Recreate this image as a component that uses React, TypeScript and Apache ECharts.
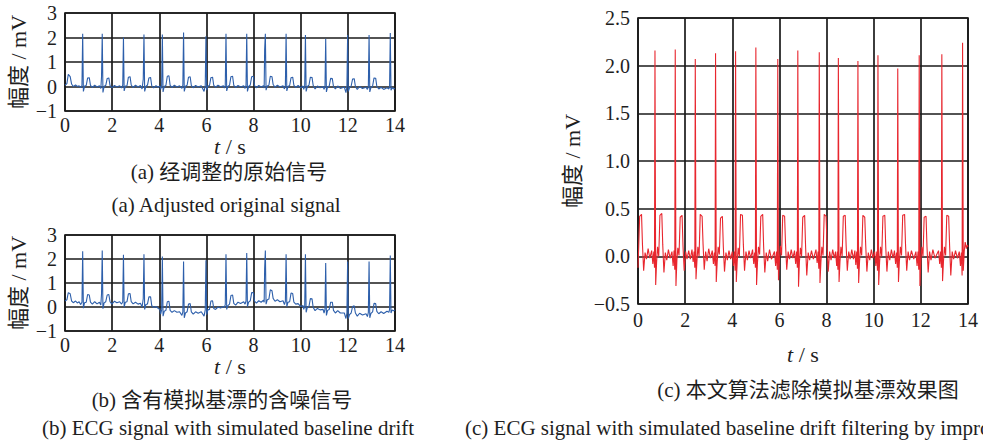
import React, { useEffect, useRef } from "react";
import * as echarts from "echarts";

// (a) adjusted original signal [t (s), amplitude (mV)]
const seriesA: number[][] = [
  [0, 0.05], [0.08, 0.12], [0.14, 0.5], [0.22, 0.4], [0.28, 0.1], [0.35, 0.0], [0.45, 0.06], [0.52, 0.0], [0.6, 0.03],
  [0.66, -0.05], [0.72, 0.04], [0.75, 2.15], [0.78, -0.2], [0.83, 0.02], [0.9, 0.04], [0.96, 0.35], [1.03, 0.36], [1.08, 0.05], [1.16, -0.04], [1.26, 0.05], [1.36, -0.02], [1.46, 0.03],
  [1.52, -0.08], [1.55, 0.4], [1.58, 2.15], [1.61, -0.24], [1.66, 0.0], [1.73, 0.05], [1.79, 0.33], [1.86, 0.35], [1.91, 0.04], [1.99, -0.05], [2.1, 0.04], [2.2, -0.02], [2.32, 0.03],
  [2.4, -0.06], [2.45, 0.05], [2.48, 2.0], [2.51, -0.18], [2.56, 0.02], [2.63, 0.03], [2.69, 0.38], [2.76, 0.4], [2.81, 0.06], [2.89, -0.04], [2.99, 0.05], [3.1, -0.02], [3.2, 0.04],
  [3.27, -0.1], [3.32, 0.3], [3.35, 2.12], [3.38, -0.2], [3.43, 0.0], [3.5, 0.06], [3.56, 0.35], [3.63, 0.37], [3.68, 0.03], [3.76, -0.06], [3.86, 0.03], [3.95, -0.03], [4.03, 0.02],
  [4.06, -0.12], [4.1, 0.05], [4.13, 2.12], [4.16, -0.22], [4.21, 0.0], [4.28, 0.04], [4.34, 0.42], [4.41, 0.44], [4.46, 0.05], [4.54, -0.04], [4.64, 0.05], [4.75, -0.02], [4.86, 0.03],
  [4.96, -0.08], [5.0, 0.06], [5.03, 2.2], [5.06, -0.2], [5.11, 0.01], [5.18, 0.05], [5.24, 0.38], [5.31, 0.4], [5.36, 0.04], [5.44, -0.05], [5.54, 0.04], [5.65, -0.02], [5.78, 0.03],
  [5.9, -0.2], [5.95, 0.05], [5.98, 2.05], [6.01, -0.15], [6.06, 0.02], [6.13, 0.04], [6.19, 0.36], [6.26, 0.38], [6.31, 0.05], [6.39, -0.03], [6.49, 0.05], [6.6, -0.01], [6.72, 0.03],
  [6.76, -0.06], [6.8, 0.04], [6.83, 2.15], [6.86, -0.18], [6.91, 0.0], [6.98, 0.05], [7.04, 0.4], [7.11, 0.42], [7.16, 0.05], [7.24, -0.04], [7.34, 0.04], [7.45, -0.02], [7.58, 0.03],
  [7.64, -0.08], [7.68, 0.05], [7.71, 2.15], [7.74, -0.2], [7.79, 0.0], [7.86, 0.06], [7.92, 0.4], [7.99, 0.42], [8.04, 0.04], [8.12, -0.05], [8.22, 0.04], [8.32, -0.02], [8.42, 0.03],
  [8.45, -0.06], [8.47, 1.5], [8.5, 2.15], [8.53, -0.15], [8.58, 0.02], [8.65, 0.05], [8.71, 0.42], [8.78, 0.4], [8.83, 0.08], [8.91, -0.03], [9.01, 0.05], [9.12, -0.02], [9.25, 0.03],
  [9.31, -0.1], [9.35, 0.05], [9.38, 2.15], [9.41, -0.18], [9.46, 0.0], [9.53, 0.04], [9.59, 0.36], [9.66, 0.38], [9.71, 0.05], [9.79, -0.04], [9.89, 0.04], [10.0, -0.05], [10.1, 0.02],
  [10.13, -0.12], [10.17, 0.05], [10.2, 2.1], [10.23, -0.2], [10.28, 0.0], [10.35, 0.05], [10.41, 0.38], [10.48, 0.37], [10.53, 0.04], [10.61, -0.1], [10.71, 0.02], [10.82, -0.05], [10.95, 0.0],
  [10.99, -0.12], [11.03, 0.0], [11.06, 1.95], [11.09, -0.22], [11.14, -0.02], [11.21, 0.02], [11.27, 0.33], [11.34, 0.32], [11.39, 0.0], [11.47, -0.1], [11.57, 0.02], [11.68, -0.08], [11.85, -0.02],
  [11.92, -0.25], [11.96, 0.0], [11.99, 2.1], [12.02, -0.2], [12.07, -0.05], [12.14, 0.02], [12.2, 0.3], [12.27, 0.32], [12.32, 0.0], [12.4, -0.12], [12.5, 0.0], [12.62, -0.08], [12.77, -0.03],
  [12.83, -0.12], [12.87, 0.0], [12.9, 2.1], [12.93, -0.22], [12.98, -0.05], [13.05, 0.02], [13.11, 0.35], [13.18, 0.34], [13.23, 0.0], [13.31, -0.1], [13.41, -0.03], [13.52, -0.12], [13.66, -0.05],
  [13.74, -0.1], [13.77, 0.0], [13.8, 2.18], [13.83, -0.15], [13.88, -0.05], [13.94, -0.1], [14.0, -0.08],
];

// (b) noisy signal with simulated baseline drift
const seriesB: number[][] = [
  [0, 0.25], [0.08, 0.3], [0.14, 0.6], [0.22, 0.55], [0.28, 0.25], [0.35, 0.18], [0.45, 0.25], [0.52, 0.17], [0.6, 0.22],
  [0.66, 0.1], [0.72, 0.2], [0.75, 2.32], [0.78, -0.05], [0.83, 0.18], [0.9, 0.2], [0.96, 0.52], [1.03, 0.5], [1.08, 0.2], [1.16, 0.12], [1.26, 0.22], [1.36, 0.13], [1.46, 0.2],
  [1.52, 0.08], [1.55, 0.55], [1.58, 2.35], [1.61, -0.07], [1.66, 0.17], [1.73, 0.22], [1.79, 0.5], [1.86, 0.52], [1.91, 0.22], [1.99, 0.12], [2.1, 0.24], [2.2, 0.18], [2.32, 0.22],
  [2.4, 0.12], [2.45, 0.22], [2.48, 2.18], [2.51, 0.0], [2.56, 0.2], [2.63, 0.22], [2.69, 0.55], [2.76, 0.56], [2.81, 0.22], [2.89, 0.13], [2.99, 0.2], [3.1, 0.12], [3.2, 0.16],
  [3.27, 0.0], [3.32, 0.35], [3.35, 2.2], [3.38, -0.1], [3.43, 0.1], [3.5, 0.13], [3.56, 0.42], [3.63, 0.42], [3.68, 0.06], [3.76, -0.02], [3.86, 0.02], [3.95, -0.05], [4.03, -0.12],
  [4.06, -0.3], [4.1, -0.12], [4.13, 2.1], [4.16, -0.38], [4.21, -0.18], [4.28, -0.14], [4.34, 0.22], [4.41, 0.24], [4.46, -0.14], [4.54, -0.22], [4.64, -0.15], [4.75, -0.22], [4.86, -0.2],
  [4.96, -0.35], [5.0, -0.2], [5.03, 1.9], [5.06, -0.45], [5.11, -0.25], [5.18, -0.2], [5.24, 0.12], [5.31, 0.14], [5.36, -0.2], [5.44, -0.3], [5.54, -0.2], [5.65, -0.26], [5.78, -0.2],
  [5.9, -0.38], [5.95, -0.12], [5.98, 1.95], [6.01, -0.32], [6.06, -0.12], [6.13, -0.1], [6.19, 0.25], [6.26, 0.26], [6.31, -0.06], [6.39, -0.1], [6.49, 0.0], [6.6, -0.04], [6.72, 0.02],
  [6.76, -0.02], [6.8, 0.1], [6.83, 2.2], [6.86, -0.1], [6.91, 0.06], [6.98, 0.12], [7.04, 0.48], [7.11, 0.5], [7.16, 0.15], [7.24, 0.08], [7.34, 0.2], [7.45, 0.15], [7.58, 0.22],
  [7.64, 0.12], [7.68, 0.25], [7.71, 2.25], [7.74, 0.02], [7.79, 0.2], [7.86, 0.26], [7.92, 0.6], [7.99, 0.6], [8.04, 0.25], [8.12, 0.16], [8.22, 0.26], [8.32, 0.2], [8.42, 0.28],
  [8.45, 0.2], [8.47, 1.6], [8.5, 2.35], [8.53, 0.12], [8.58, 0.3], [8.65, 0.33], [8.71, 0.72], [8.78, 0.68], [8.83, 0.36], [8.91, 0.24], [9.01, 0.3], [9.12, 0.22], [9.25, 0.26],
  [9.31, 0.1], [9.35, 0.24], [9.38, 2.2], [9.41, 0.02], [9.46, 0.2], [9.53, 0.22], [9.59, 0.58], [9.66, 0.56], [9.71, 0.2], [9.79, 0.12], [9.89, 0.14], [10.0, 0.02], [10.1, 0.06],
  [10.13, -0.1], [10.17, 0.05], [10.2, 2.2], [10.23, -0.22], [10.28, -0.02], [10.35, 0.02], [10.41, 0.35], [10.48, 0.34], [10.53, -0.02], [10.61, -0.15], [10.71, -0.06], [10.82, -0.12], [10.95, -0.1],
  [10.99, -0.25], [11.03, -0.1], [11.06, 1.83], [11.09, -0.35], [11.14, -0.14], [11.21, -0.1], [11.27, 0.2], [11.34, 0.2], [11.39, -0.14], [11.47, -0.25], [11.57, -0.15], [11.68, -0.25], [11.85, -0.25],
  [11.92, -0.48], [11.96, -0.25], [11.99, 1.9], [12.02, -0.48], [12.07, -0.32], [12.14, -0.25], [12.2, 0.02], [12.27, 0.05], [12.32, -0.25], [12.4, -0.38], [12.5, -0.26], [12.62, -0.33], [12.77, -0.28],
  [12.83, -0.4], [12.87, -0.22], [12.9, 1.9], [12.93, -0.45], [12.98, -0.27], [13.05, -0.2], [13.11, 0.15], [13.18, 0.14], [13.23, -0.18], [13.31, -0.28], [13.41, -0.2], [13.52, -0.27], [13.66, -0.18],
  [13.74, -0.22], [13.77, -0.1], [13.8, 2.15], [13.83, -0.25], [13.88, -0.12], [13.94, -0.16], [14.0, -0.12],
];

// (c) result after removing the simulated baseline drift
const seriesC: number[][] = [
  [0, -0.12], [0.03, 0.1], [0.07, 0.42], [0.15, 0.44], [0.19, 0.12], [0.24, -0.15], [0.3, 0.04], [0.36, -0.03], [0.43, 0.08], [0.5, -0.02],
  [0.58, 0.06], [0.63, -0.08], [0.67, 0.05], [0.7, -0.12], [0.72, 2.16], [0.75, -0.3], [0.79, -0.06], [0.83, 0.1], [0.88, 0.0], [0.93, 0.43], [1.01, 0.45], [1.05, 0.12], [1.1, -0.17], [1.16, 0.04], [1.22, -0.04], [1.29, 0.07], [1.36, -0.02],
  [1.44, 0.05], [1.49, -0.1], [1.53, 0.06], [1.56, -0.14], [1.58, 2.17], [1.61, -0.31], [1.65, -0.04], [1.69, 0.09], [1.74, 0.01], [1.79, 0.41], [1.87, 0.43], [1.91, 0.1], [1.96, -0.15], [2.02, 0.05], [2.08, -0.03], [2.15, 0.06], [2.22, -0.03],
  [2.29, 0.07], [2.34, -0.06], [2.38, 0.05], [2.41, -0.12], [2.43, 2.07], [2.46, -0.24], [2.5, -0.05], [2.54, 0.1], [2.59, 0.0], [2.64, 0.44], [2.72, 0.42], [2.76, 0.13], [2.81, -0.14], [2.87, 0.05], [2.93, -0.05], [3.0, 0.08], [3.07, -0.02],
  [3.15, 0.06], [3.2, -0.08], [3.24, 0.04], [3.27, -0.1], [3.29, 2.13], [3.32, -0.27], [3.36, -0.06], [3.4, 0.1], [3.45, 0.02], [3.5, 0.4], [3.58, 0.42], [3.62, 0.1], [3.67, -0.16], [3.73, 0.04], [3.79, -0.04], [3.86, 0.06], [3.93, -0.03],
  [4.0, 0.05], [4.05, -0.1], [4.09, 0.05], [4.12, -0.15], [4.14, 2.15], [4.17, -0.27], [4.21, -0.05], [4.25, 0.09], [4.3, 0.0], [4.35, 0.44], [4.43, 0.43], [4.47, 0.12], [4.52, -0.15], [4.58, 0.05], [4.64, -0.04], [4.71, 0.06], [4.78, -0.02],
  [4.86, 0.07], [4.91, -0.08], [4.95, 0.04], [4.98, -0.12], [5.0, 2.19], [5.03, -0.3], [5.07, -0.06], [5.11, 0.1], [5.16, 0.02], [5.21, 0.42], [5.29, 0.44], [5.33, 0.1], [5.38, -0.17], [5.44, 0.04], [5.5, -0.05], [5.58, 0.07], [5.66, -0.03],
  [5.79, 0.05], [5.84, -0.1], [5.88, 0.05], [5.91, -0.14], [5.93, 2.07], [5.96, -0.25], [6.0, -0.04], [6.04, 0.11], [6.09, 0.01], [6.14, 0.43], [6.22, 0.42], [6.26, 0.12], [6.31, -0.14], [6.37, 0.05], [6.43, -0.03], [6.5, 0.07], [6.57, -0.02],
  [6.64, 0.06], [6.69, -0.08], [6.73, 0.05], [6.76, -0.12], [6.78, 2.16], [6.81, -0.32], [6.85, -0.05], [6.89, 0.09], [6.94, 0.0], [6.99, 0.41], [7.07, 0.43], [7.11, 0.1], [7.16, -0.2], [7.22, 0.04], [7.28, -0.04], [7.36, 0.06], [7.44, -0.03],
  [7.55, 0.07], [7.6, -0.07], [7.64, 0.05], [7.67, -0.13], [7.69, 2.14], [7.72, -0.28], [7.76, -0.06], [7.8, 0.1], [7.85, 0.01], [7.9, 0.44], [7.98, 0.42], [8.02, 0.12], [8.07, -0.16], [8.13, 0.05], [8.19, -0.04], [8.26, 0.07], [8.33, -0.02],
  [8.38, 0.05], [8.43, -0.1], [8.46, 0.05], [8.48, -0.14], [8.5, 2.08], [8.53, -0.27], [8.57, -0.05], [8.61, 0.1], [8.66, 0.0], [8.71, 0.42], [8.79, 0.43], [8.83, 0.11], [8.88, -0.15], [8.94, 0.05], [9.0, -0.03], [9.07, 0.07], [9.14, -0.03],
  [9.2, 0.06], [9.24, -0.09], [9.28, 0.05], [9.31, -0.13], [9.33, 2.05], [9.36, -0.28], [9.4, -0.05], [9.44, 0.1], [9.49, 0.01], [9.54, 0.43], [9.62, 0.41], [9.66, 0.12], [9.71, -0.16], [9.77, 0.04], [9.83, -0.04], [9.9, 0.07], [9.97, -0.02],
  [10.04, 0.05], [10.09, -0.1], [10.13, 0.05], [10.16, -0.15], [10.18, 2.11], [10.21, -0.3], [10.25, -0.06], [10.29, 0.1], [10.34, 0.0], [10.39, 0.42], [10.47, 0.43], [10.51, 0.1], [10.56, -0.16], [10.62, 0.05], [10.68, -0.04], [10.75, 0.07], [10.82, -0.02],
  [10.88, 0.06], [10.93, -0.08], [10.97, 0.04], [11.0, -0.12], [11.02, 1.97], [11.05, -0.27], [11.09, -0.05], [11.13, 0.1], [11.18, 0.01], [11.23, 0.43], [11.31, 0.44], [11.35, 0.12], [11.4, -0.15], [11.46, 0.05], [11.52, -0.04], [11.6, 0.06], [11.7, -0.03],
  [11.79, 0.05], [11.84, -0.1], [11.88, 0.05], [11.91, -0.14], [11.93, 2.11], [11.96, -0.31], [12.0, -0.05], [12.04, 0.1], [12.09, 0.0], [12.14, 0.41], [12.22, 0.42], [12.26, 0.1], [12.31, -0.17], [12.37, 0.05], [12.43, -0.04], [12.51, 0.07], [12.6, -0.02],
  [12.75, 0.06], [12.8, -0.08], [12.84, 0.05], [12.87, -0.12], [12.89, 2.12], [12.92, -0.26], [12.96, -0.05], [13.0, 0.1], [13.05, 0.01], [13.1, 0.43], [13.18, 0.42], [13.22, 0.11], [13.27, -0.2], [13.33, 0.05], [13.39, -0.03], [13.47, 0.06], [13.55, -0.02],
  [13.63, 0.05], [13.68, -0.1], [13.72, 0.04], [13.75, -0.2], [13.77, 2.24], [13.8, -0.15], [13.84, 0.05], [13.88, 0.15], [13.93, 0.08], [13.97, 0.12], [14.0, 0.1],
];

const yNameText = "幅度 / mV";
const xNameText = "{i|t} / s";
const captionA = ["(a) 经调整的原始信号", "(a) Adjusted original signal"];
const captionB = ["(b) 含有模拟基漂的含噪信号", "(b) ECG signal with simulated baseline drift"];
const captionC = ["(c) 本文算法滤除模拟基漂效果图", "(c) ECG signal with simulated baseline drift filtering by improved algorithm"];

export default function App() {
  const ref = useRef<HTMLDivElement>(null);
  useEffect(() => {
    document.body.style.margin = "0";
    const chart = echarts.init(ref.current!, null, { renderer: "svg" });
    const serif = "'Liberation Serif', 'Times New Roman', serif";
    const cjk = "'Liberation Serif', 'Noto Sans CJK SC', serif";
    const ink = "#1e1e1e";
    const fmt = (d: number) => (v: number) => (v < 0 ? "\u2212" : "") + Math.abs(v).toFixed(d);
    const gridLine = { show: true, lineStyle: { color: "#1a1a1a", width: 1.7 } };

    const mkX = (gi: number, gap: number, margin: number) => ({
      type: "value", gridIndex: gi, min: 0, max: 14, interval: 2,
      name: xNameText, nameLocation: "middle", nameGap: gap,
      nameTextStyle: {
        fontFamily: serif, fontSize: 22, color: ink,
        rich: { i: { fontStyle: "italic", fontFamily: serif, fontSize: 22, color: ink } },
      },
      axisLine: { show: false }, axisTick: { show: false },
      axisLabel: { fontFamily: serif, fontSize: 20, color: ink, margin },
      splitLine: gridLine,
    });
    const mkY = (gi: number, min: number, max: number, interval: number, dec: number, gap: number) => ({
      type: "value", gridIndex: gi, min, max, interval,
      name: yNameText, nameLocation: "middle", nameGap: gap, nameRotate: 90,
      nameTextStyle: { fontFamily: cjk, fontSize: 22, color: ink },
      axisLine: { show: false }, axisTick: { show: false },
      axisLabel: { fontFamily: serif, fontSize: 20, color: ink, margin: 8, formatter: fmt(dec) },
      splitLine: gridLine,
    });
    const mkLine = (i: number, data: number[][], color: string) => ({
      type: "line", xAxisIndex: i, yAxisIndex: i, data, symbol: "none", showSymbol: false,
      lineStyle: { color, width: 1.1 }, silent: true,
    });
    const caption = (text: string, x: number, y: number, align = "center") => ({
      type: "text", x, y, silent: true,
      style: {
        text, fill: ink, font: `21px ${cjk}`,
        textAlign: align, textVerticalAlign: "middle", align, verticalAlign: "middle",
      },
    });
    const gridBox = { show: true, borderColor: "#1a1a1a", borderWidth: 1.7, backgroundColor: "transparent" };

    chart.setOption({
      animation: false,
      backgroundColor: "#ffffff",
      grid: [
        { ...gridBox, left: 65, top: 13, width: 330, height: 98 },
        { ...gridBox, left: 65, top: 235, width: 330, height: 96 },
        { ...gridBox, left: 638, top: 18, width: 330, height: 286 },
      ],
      xAxis: [mkX(0, 14, 4), mkX(1, 24, 4), mkX(2, 39, 6)],
      yAxis: [mkY(0, -1, 3, 1, 0, 36), mkY(1, -1, 3, 1, 0, 36), mkY(2, -0.5, 2.5, 0.5, 1, 55)],
      series: [
        mkLine(0, seriesA, "#2d5fab"),
        mkLine(1, seriesB, "#2d5fab"),
        mkLine(2, seriesC, "#e8262e"),
      ],
      graphic: [
        caption(captionA[0], 229, 172),
        caption(captionA[1], 226, 205),
        caption(captionB[0], 222, 400),
        caption(captionB[1], 228, 428),
        caption(captionC[0], 808, 390),
        caption(captionC[1], 465, 428, "left"),
      ],
    });
    return () => chart.dispose();
  }, []);
  return <div ref={ref} style={{ width: 983, height: 441, position: "absolute", left: 0, top: 0 }} />;
}
